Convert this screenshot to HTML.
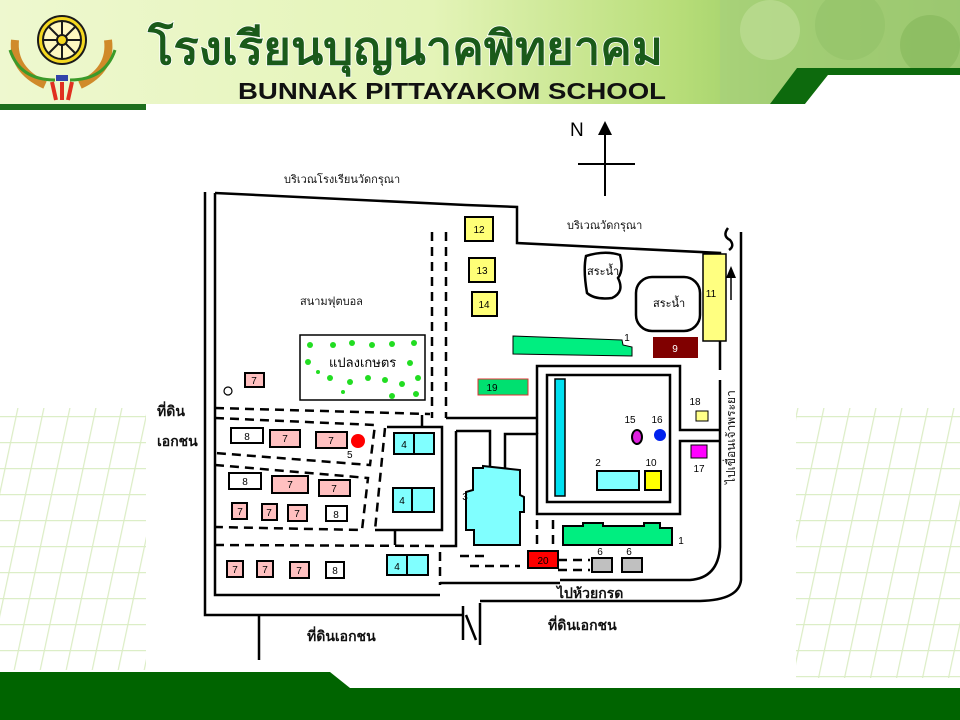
<!DOCTYPE html>
<html><head><meta charset="utf-8"><style>
html,body{margin:0;padding:0;width:960px;height:720px;overflow:hidden;background:#fff}
svg{display:block}
text{font-family:"Liberation Sans","Noto Sans CJK SC",sans-serif}
</style></head><body>
<svg width="960" height="720" viewBox="0 0 960 720" xmlns="http://www.w3.org/2000/svg">
<defs>
<linearGradient id="hd" x1="0" y1="0" x2="1" y2="0">
<stop offset="0" stop-color="#eef8cf"/><stop offset="0.45" stop-color="#e4f4b8"/><stop offset="0.7" stop-color="#b9de7a"/><stop offset="0.8" stop-color="#9fcf68"/><stop offset="1" stop-color="#8bbd5a"/>
</linearGradient>
<pattern id="gr" width="26" height="26" patternUnits="userSpaceOnUse" patternTransform="skewX(-12)">
<path d="M0 0H26M0 0V26" stroke="#dcedc6" stroke-width="2.5" fill="none"/>
</pattern>
</defs>
<rect width="960" height="720" fill="#fff"/>
<!-- header -->
<rect x="0" y="0" width="960" height="104" fill="url(#hd)"/>
<rect x="720" y="0" width="240" height="104" fill="#a6cf7e" opacity="0.6"/>
<circle cx="770" cy="30" r="30" fill="#c2e09a" opacity="0.6"/>
<circle cx="850" cy="25" r="35" fill="#8fbf66" opacity="0.5"/>
<circle cx="930" cy="45" r="30" fill="#7fb356" opacity="0.5"/>
<polygon points="770,104 797,68 960,68 960,75 828,75 805,104" fill="#0d6a0d"/>
<polygon points="805,104 828,75 960,75 960,104" fill="#fff"/>
<rect x="0" y="104" width="146" height="6" fill="#1d6e1d"/>
<!-- logo -->
<g>
<path d="M15,40 Q12,70 45,85 M108,40 Q112,70 80,85" stroke="#d08a2a" stroke-width="8" fill="none"/>
<path d="M10,50 Q20,80 55,80 M115,50 Q105,80 70,80" stroke="#3b9a2a" stroke-width="3" fill="none"/>
<circle cx="62" cy="40" r="24" fill="#f4d820" stroke="#1a1a1a" stroke-width="2"/>
<circle cx="62" cy="40" r="19" fill="#fff8c0" stroke="#1a1a1a" stroke-width="2"/>
<g stroke="#1a1a1a" stroke-width="2"><line x1="62" y1="21" x2="62" y2="59"/><line x1="43" y1="40" x2="81" y2="40"/><line x1="49" y1="27" x2="75" y2="53"/><line x1="75" y1="27" x2="49" y2="53"/></g>
<circle cx="62" cy="40" r="5" fill="#f4d820" stroke="#1a1a1a" stroke-width="2"/>
<rect x="56" y="75" width="12" height="6" fill="#3344aa"/>
<path d="M52,82 L56,100 M62,82 L62,100 M72,82 L68,100" stroke="#e03020" stroke-width="4"/>
</g>
<text x="148" y="64" font-size="46" font-weight="bold" fill="#1a5a1a" stroke="#fff" stroke-width="1.5" paint-order="stroke" textLength="515" lengthAdjust="spacingAndGlyphs">โรงเรียนบุญนาคพิทยาคม</text>
<text x="238" y="99" font-size="23" font-weight="bold" fill="#111" textLength="428" lengthAdjust="spacingAndGlyphs">BUNNAK PITTAYAKOM SCHOOL</text>
<!-- background grids -->
<rect x="796" y="408" width="164" height="270" fill="url(#gr)"/>
<rect x="0" y="408" width="146" height="262" fill="url(#gr)"/>
<!-- bottom bar -->
<polygon points="0,672 330,672 350,688 960,688 960,720 0,720" fill="#006400"/>

<!-- MAP -->
<g fill="none" stroke="#000" stroke-width="2.5">
<path d="M205,192 V615 H463"/>
<path d="M259,615 V660"/>
<path d="M215,193 L466,205 L517,207 V243 L720,253 V370"/>
<path d="M720,380 V547 Q718,578 690,580 H560"/>
<path d="M741,232 V580 Q739,600 700,601 H480"/>
<path d="M215,193 V595 H440"/>
<path d="M463,606 V640 M480,603 V645 M466,615 L476,640"/>
<path d="M728,228 Q722,236 730,240 Q735,246 729,250"/>
<path d="M446,418 H537"/>
<path d="M456,431 V546 H440"/>
<path d="M456,431 H490 V468"/>
<path d="M505,468 V434 H537 V514 H680 V441 H720"/>
<path d="M537,434 V366 H680 V430 H720"/>
<path d="M387,427 H442 V530 H375"/>
<path d="M395,530 V545"/>
<path d="M422,415 V427"/>
<path d="M440,583 H560"/>
</g>
<rect x="547" y="375" width="123" height="127" fill="none" stroke="#000" stroke-width="2.5"/>
<g fill="none" stroke="#000" stroke-width="2.5" stroke-dasharray="9,6">
<path d="M432,232 V418 M446,232 V418"/>
<path d="M215,408 L430,414"/>
<path d="M215,418 L375,425 L370,465 L215,453"/>
<path d="M215,465 L368,478 L362,530 L215,527"/>
<path d="M215,545 L440,546"/>
<path d="M385,428 L375,530"/>
<path d="M440,552 V585"/>
<path d="M537,520 V550 M553,520 V550"/>
<path d="M558,560 H590 M558,570 H590"/>
<path d="M460,556 H490 M470,566 H520"/>
</g>
<text x="570" y="136" font-size="19">N</text>
<path d="M605,128 V196 M578,164 H635" stroke="#000" stroke-width="2" fill="none"/>
<polygon points="605,121 598,135 612,135" fill="#000"/>
<path d="M731,300 V275" stroke="#000" stroke-width="1.5"/>
<polygon points="731,266 726,278 736,278" fill="#000"/>

<g font-size="11" fill="#111">
<text x="284" y="183">บริเวณโรงเรียนวัดกรุณา</text>
<text x="567" y="229">บริเวณวัดกรุณา</text>
<text x="300" y="305">สนามฟุตบอล</text>
</g>
<g font-size="14" font-weight="bold" fill="#111">
<text x="157" y="416">ที่ดิน</text>
<text x="157" y="446">เอกชน</text>
<text x="307" y="641">ที่ดินเอกชน</text>
<text x="548" y="630">ที่ดินเอกชน</text>
<text x="557" y="598">ไปห้วยกรด</text>
</g>
<text transform="translate(735,484) rotate(-90)" font-size="12" fill="#111">ไปเขื่อนเจ้าพระยา</text>

<path d="M586,256 Q605,250 620,255 Q624,270 618,278 Q625,292 612,298 Q595,300 587,293 Q583,270 586,256Z" fill="#fff" stroke="#000" stroke-width="2.5"/>
<text x="587" y="275" font-size="11">สระน้ำ</text>
<rect x="636" y="277" width="64" height="54" rx="16" fill="#fff" stroke="#000" stroke-width="2.5"/>
<text x="653" y="307" font-size="11">สระน้ำ</text>

<rect x="300" y="335" width="125" height="65" fill="#fff" stroke="#000" stroke-width="1.5"/>
<g fill="#22dd22">
<circle cx="310" cy="345" r="3"/><circle cx="333" cy="345" r="3"/><circle cx="352" cy="343" r="3"/><circle cx="372" cy="345" r="3"/><circle cx="392" cy="344" r="3"/><circle cx="414" cy="343" r="3"/>
<circle cx="308" cy="362" r="3"/><circle cx="410" cy="363" r="3"/><circle cx="418" cy="378" r="3"/>
<circle cx="330" cy="378" r="3"/><circle cx="350" cy="382" r="3"/><circle cx="368" cy="378" r="3"/><circle cx="385" cy="380" r="3"/><circle cx="402" cy="384" r="3"/>
<circle cx="318" cy="372" r="2"/><circle cx="392" cy="396" r="3"/><circle cx="416" cy="394" r="3"/><circle cx="343" cy="392" r="2"/>
</g>
<text x="329" y="367" font-size="13">แปลงเกษตร</text>

<g stroke="#000" stroke-width="2" font-size="10" text-anchor="middle">
<rect x="465" y="217" width="28" height="24" fill="#ffff77"/><text x="479" y="233" stroke="none">12</text>
<rect x="469" y="258" width="26" height="24" fill="#ffff77"/><text x="482" y="274" stroke="none">13</text>
<rect x="472" y="292" width="25" height="24" fill="#ffff77"/><text x="484" y="308" stroke="none">14</text>
<rect x="703" y="254" width="23" height="87" fill="#ffff80" stroke-width="1.5"/><text x="711" y="297" stroke="none">11</text>
<polygon points="513,336 622,340 623,345 632,347 632,356 513,354" fill="#00ee80" stroke-width="1"/>
<text x="627" y="341" stroke="none">1</text>
<rect x="653" y="337" width="45" height="21" fill="#800000" stroke="none"/><text x="675" y="352" fill="#fff" stroke="none">9</text>
<rect x="478" y="379" width="50" height="16" fill="#00e070" stroke="#e03030" stroke-width="1"/><text x="492" y="391" stroke="none">19</text>
<rect x="555" y="379" width="10" height="117" fill="#00e0f0" stroke-width="1.5"/>
<ellipse cx="637" cy="437" rx="5" ry="7" fill="#e020e0"/>
<circle cx="660" cy="435" r="6" fill="#0022ee" stroke="none"/>
<text x="630" y="423" stroke="none">15</text><text x="657" y="423" stroke="none">16</text>
<rect x="597" y="471" width="42" height="19" fill="#80ffff"/><text x="598" y="466" stroke="none">2</text>
<rect x="645" y="471" width="16" height="19" fill="#ffff00"/><text x="651" y="466" stroke="none">10</text>
<rect x="696" y="411" width="12" height="10" fill="#ffff88" stroke-width="1"/><text x="695" y="405" stroke="none">18</text>
<rect x="691" y="445" width="16" height="13" fill="#ff00ff" stroke-width="1"/><text x="699" y="472" stroke="none">17</text>
<polygon points="473,468 483,468 483,466 520,470 520,495 524,497 524,512 520,512 520,545 474,545 474,530 466,530 466,492 473,490" fill="#80ffff"/>
<text x="465" y="500" stroke="none">3</text>
<polygon points="563,526 583,526 583,523 603,523 603,526 644,526 644,523 660,523 660,528 672,528 672,545 563,545" fill="#00ee80"/>
<text x="681" y="544" stroke="none">1</text>
<rect x="528" y="551" width="30" height="17" fill="#ff0000"/><text x="543" y="564" stroke="none">20</text>
<rect x="592" y="558" width="20" height="14" fill="#c0c0c0"/><text x="600" y="555" stroke="none">6</text>
<rect x="622" y="558" width="20" height="14" fill="#c0c0c0"/><text x="629" y="555" stroke="none">6</text>
<rect x="394" y="433" width="20" height="21" fill="#80ffff"/><rect x="414" y="433" width="20" height="21" fill="#80ffff"/><text x="404" y="448" stroke="none">4</text>
<rect x="393" y="488" width="19" height="24" fill="#80ffff"/><rect x="412" y="488" width="22" height="24" fill="#80ffff"/><text x="402" y="504" stroke="none">4</text>
<rect x="387" y="555" width="20" height="20" fill="#80ffff"/><rect x="407" y="555" width="21" height="20" fill="#80ffff"/><text x="397" y="570" stroke="none">4</text>
<rect x="245" y="373" width="19" height="14" fill="#ffc0c0"/><text x="254" y="384" stroke="none">7</text>
<rect x="231" y="428" width="32" height="15" fill="#fff"/><text x="247" y="440" stroke="none">8</text>
<rect x="270" y="430" width="30" height="17" fill="#ffc0c0"/><text x="285" y="442" stroke="none">7</text>
<rect x="316" y="432" width="31" height="16" fill="#ffc0c0"/><text x="331" y="444" stroke="none">7</text>
<rect x="229" y="473" width="32" height="16" fill="#fff"/><text x="245" y="485" stroke="none">8</text>
<rect x="272" y="476" width="36" height="17" fill="#ffc0c0"/><text x="290" y="488" stroke="none">7</text>
<rect x="319" y="480" width="31" height="16" fill="#ffc0c0"/><text x="334" y="492" stroke="none">7</text>
<rect x="232" y="503" width="15" height="16" fill="#ffc0c0"/><text x="240" y="515" stroke="none">7</text>
<rect x="262" y="504" width="15" height="16" fill="#ffc0c0"/><text x="269" y="516" stroke="none">7</text>
<rect x="288" y="505" width="19" height="16" fill="#ffc0c0"/><text x="297" y="517" stroke="none">7</text>
<rect x="326" y="506" width="21" height="15" fill="#fff"/><text x="336" y="518" stroke="none">8</text>
<rect x="227" y="561" width="16" height="16" fill="#ffc0c0"/><text x="235" y="573" stroke="none">7</text>
<rect x="257" y="561" width="16" height="16" fill="#ffc0c0"/><text x="265" y="573" stroke="none">7</text>
<rect x="290" y="562" width="19" height="16" fill="#ffc0c0"/><text x="299" y="574" stroke="none">7</text>
<rect x="326" y="562" width="18" height="16" fill="#fff"/><text x="335" y="574" stroke="none">8</text>
</g>
<circle cx="358" cy="441" r="7" fill="#ff0000"/>
<text x="347" y="458" font-size="10">5</text>
<circle cx="228" cy="391" r="4" fill="none" stroke="#000" stroke-width="1.2"/>
</svg>
</body></html>
